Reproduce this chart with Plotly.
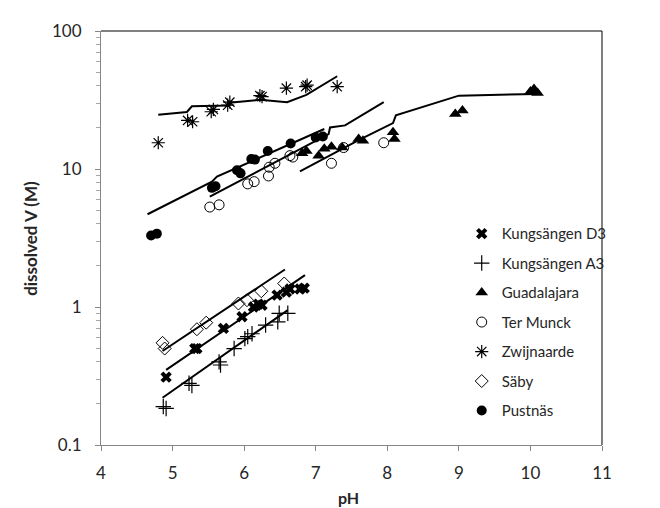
import plotly.graph_objects as go

# ---------------- data ----------------
d3_ph = [4.91, 5.31, 5.34, 5.71, 5.97, 6.13, 6.20, 6.25, 6.46, 6.59, 6.64, 6.78, 6.84]
d3_v = [0.31, 0.50, 0.50, 0.70, 0.85, 1.00, 1.05, 1.03, 1.22, 1.28, 1.35, 1.35, 1.37]

a3_ph = [4.87, 4.91, 5.23, 5.27, 5.65, 5.67, 5.86, 6.01, 6.05, 6.11, 6.30, 6.47, 6.49, 6.61]
a3_v = [0.19, 0.184, 0.28, 0.27, 0.40, 0.38, 0.50, 0.59, 0.61, 0.64, 0.74, 0.78, 0.90, 0.90]

gua_ph = [6.81, 6.87, 7.04, 7.12, 7.22, 7.37, 7.60, 7.66, 8.08, 8.10, 8.95, 9.05, 10.00, 10.05, 10.10]
gua_v = [13.0, 13.5, 12.5, 14.0, 14.5, 14.3, 16.5, 16.0, 18.5, 16.5, 25.0, 26.5, 36.5, 38.0, 35.5]

ter_ph = [5.52, 5.65, 6.05, 6.14, 6.34, 6.35, 6.43, 6.64, 6.68, 7.22, 7.39, 7.95]
ter_v = [5.3, 5.5, 7.8, 8.1, 8.9, 10.3, 11.0, 12.5, 12.2, 11.0, 14.3, 15.5]

zwi_ph = [4.80, 5.21, 5.28, 5.54, 5.57, 5.77, 5.80, 6.22, 6.25, 6.59, 6.86, 6.88, 7.30]
zwi_v = [15.5, 22.5, 22.0, 26.0, 27.0, 29.0, 30.5, 34.0, 33.5, 38.5, 39.5, 40.5, 39.5]

sab_ph = [4.86, 4.89, 5.34, 5.47, 5.92, 6.04, 6.24, 6.56]
sab_v = [0.55, 0.50, 0.69, 0.77, 1.06, 1.12, 1.30, 1.48]

pus_ph = [4.70, 4.78, 5.55, 5.60, 5.90, 5.95, 6.10, 6.15, 6.33, 6.65, 7.00, 7.10]
pus_v = [3.3, 3.4, 7.3, 7.5, 9.8, 9.3, 11.8, 11.7, 13.5, 15.3, 16.9, 17.2]

# model / fit lines
d3_fit_ph = [4.91, 6.85]
d3_fit_v = [0.35, 1.70]
a3_fit_ph = [4.86, 6.61]
a3_fit_v = [0.22, 0.95]
sab_fit_ph = [4.86, 6.57]
sab_fit_v = [0.48, 1.87]
pus_fit_ph = [4.65, 5.55, 5.62, 7.12]
pus_fit_v = [4.7, 8.1, 8.8, 19.5]
ter_fit_ph = [5.52, 7.18, 7.20, 7.41, 7.95]
ter_fit_v = [6.3, 17.9, 20.0, 20.7, 30.5]
zwi_fit_ph = [4.80, 5.20, 5.27, 5.78, 5.83, 6.22, 6.60, 6.87, 7.30]
zwi_fit_v = [24.7, 25.9, 28.5, 28.8, 30.3, 31.7, 30.5, 34.4, 47.0]
gua_fit_ph = [6.78, 7.60, 8.08, 8.12, 9.00, 10.10]
gua_fit_v = [9.6, 16.2, 21.5, 24.5, 34.0, 35.0]

x_ticks = [4, 5, 6, 7, 8, 9, 10, 11]
y_ticks = [0.1, 1, 10, 100]
y_tick_text = ["0.1", "1", "10", "100"]

# ---------------- figure ----------------
FONT = "Lato, 'Open Sans', Arial, sans-serif"
fig = go.Figure()

series = [
    ("Kungsängen D3", d3_ph, d3_v, dict(symbol="x", size=10, color="black")),
    ("Kungsängen A3", a3_ph, a3_v, dict(symbol="cross-thin-open", size=11, color="black", line=dict(width=1.2, color="black"))),
    ("Guadalajara", gua_ph, gua_v, dict(symbol="triangle-up", size=11, color="black")),
    ("Ter Munck", ter_ph, ter_v, dict(symbol="circle-open", size=10, color="black", line=dict(width=1, color="black"))),
    ("Zwijnaarde", zwi_ph, zwi_v, dict(symbol="asterisk-open", size=11, color="black", line=dict(width=1.2, color="black"))),
    ("Säby", sab_ph, sab_v, dict(symbol="diamond-open", size=10, color="black", line=dict(width=1, color="black"))),
    ("Pustnäs", pus_ph, pus_v, dict(symbol="circle", size=10, color="black")),
]

fits = [
    (d3_fit_ph, d3_fit_v), (a3_fit_ph, a3_fit_v), (gua_fit_ph, gua_fit_v),
    (ter_fit_ph, ter_fit_v), (zwi_fit_ph, zwi_fit_v), (sab_fit_ph, sab_fit_v),
    (pus_fit_ph, pus_fit_v),
]

for fx, fy in fits:
    fig.add_trace(go.Scatter(x=fx, y=fy, mode="lines", showlegend=False,
                             line=dict(color="black", width=2), hoverinfo="skip"))

for i, (name, xs, ys, mk) in enumerate(series):
    fig.add_trace(go.Scatter(x=xs, y=ys, mode="markers", name=name, marker=mk,
                             legendgroup=f"g{i}"))

axis_color = "#868686"
fig.update_layout(
    width=660, height=508, autosize=False,
    margin=dict(l=93, r=66, t=18, b=71),
    paper_bgcolor="white", plot_bgcolor="white",
    font=dict(family=FONT, size=16, color="#262626"),
    showlegend=True,
    legend=dict(x=0.72, y=0.55, xanchor="left", yanchor="top",
                bgcolor="rgba(0,0,0,0)", traceorder="grouped", tracegroupgap=7,
                font=dict(family=FONT, size=15, color="#262626")),
    xaxis=dict(range=[4, 11], tickvals=x_ticks, ticks="outside", ticklen=5,
               tickcolor=axis_color, showline=True, linecolor=axis_color, linewidth=1,
               showgrid=False, zeroline=False, ticklabelstandoff=8,
               tickfont=dict(size=17)),
    yaxis=dict(type="log", range=[-1, 2], tickvals=y_ticks, ticktext=y_tick_text,
               ticks="outside", ticklen=5, tickcolor=axis_color, showline=True,
               linecolor=axis_color, linewidth=1, showgrid=False, zeroline=False,
               ticklabelstandoff=10, tickfont=dict(size=17),
               minor=dict(ticks="outside", ticklen=4, tickcolor="#a6a6a6", dtick="D1",
                          showgrid=False)),
    shapes=[
        dict(type="line", xref="x domain", yref="y domain", x0=0, x1=1, y0=1, y1=1,
             line=dict(color="black", width=1)),
        dict(type="line", xref="x domain", yref="y domain", x0=1, x1=1, y0=0, y1=1,
             line=dict(color="black", width=1)),
    ],
    annotations=[
        dict(text="<b>dissolved V (M)</b>", xref="paper", yref="paper", x=-0.142, y=0.5,
             xanchor="center", yanchor="middle", textangle=-90, showarrow=False,
             font=dict(family=FONT, size=17, color="#262626")),
        dict(text="<b>pH</b>", xref="paper", yref="paper", x=0.495, y=-0.128,
             xanchor="center", yanchor="middle", showarrow=False,
             font=dict(family=FONT, size=16, color="#262626")),
    ],
)

fig.write_html("out.html")
